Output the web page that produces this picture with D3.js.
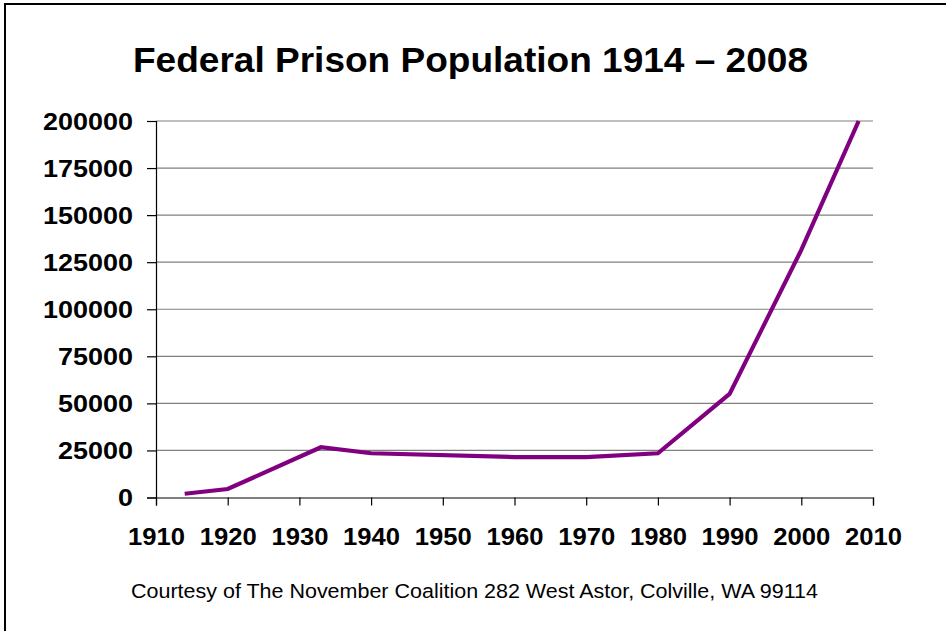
<!DOCTYPE html>
<html>
<head>
<meta charset="utf-8">
<script src="https://cdn.jsdelivr.net/npm/d3@7"></script>
<style>
  body { margin: 0; background: #fff; }
  svg { display: block; }
  text { font-family: "Liberation Sans", Arial, sans-serif; }
</style>
</head>
<body>
<svg id="chart" width="946" height="631"></svg>
<script>
// data
var years = [1914, 1920, 1933, 1940, 1960, 1970, 1980, 1990, 2000, 2008];
var population = [2000, 4500, 26700, 23500, 21500, 21500, 23500, 55000, 131500, 200000];
var yTicks = [0, 25000, 50000, 75000, 100000, 125000, 150000, 175000, 200000];
var xTicks = [1910, 1920, 1930, 1940, 1950, 1960, 1970, 1980, 1990, 2000, 2010];

var svg = d3.select("#chart");

// outer frame, cut off on the right and bottom
svg.append("rect")
	.attr("x", 5).attr("y", 4)
	.attr("width", 1000).attr("height", 700)
	.attr("fill", "none")
	.attr("stroke", "#000")
	.attr("stroke-width", 2);

var x = d3.scaleLinear().domain([1910, 2010]).range([156, 873]);
var y = d3.scaleLinear().domain([0, 200000]).range([497.5, 121]);

// gridlines
svg.append("g")
	.selectAll("line")
	.data(yTicks.slice(1))
	.enter()
	.append("line")
	.attr("x1", x(1910)).attr("x2", x(2010))
	.attr("y1", function(d) { return y(d); })
	.attr("y2", function(d) { return y(d); })
	.attr("stroke", "#808080")
	.attr("stroke-width", 1.2);

var yAxis = svg.append("g")
	.attr("transform", "translate(" + x(1910) + ",0)")
	.call(d3.axisLeft(y).tickValues(yTicks).tickSize(9).tickPadding(14).tickFormat(d3.format("d")));

var xAxis = svg.append("g")
	.attr("transform", "translate(0," + y(0) + ")")
	.call(d3.axisBottom(x).tickValues(xTicks).tickSize(8).tickPadding(17).tickFormat(d3.format("d")));

[yAxis, xAxis].forEach(function(ax) {
	ax.select(".domain").attr("stroke", "#000").attr("stroke-width", 1.2);
	ax.selectAll(".tick line").attr("stroke", "#000").attr("stroke-width", 1.2);
	ax.selectAll("text")
		.attr("fill", "#000")
		.style("font-family", "'Liberation Sans', Arial, sans-serif")
		.style("font-size", "23.5px")
		.style("font-weight", "bold")
		.attr("lengthAdjust", "spacingAndGlyphs");
});
// the source font is drawn wider than Liberation Sans, so stretch the labels
yAxis.selectAll("text").attr("dy", "0.36em")
	.attr("textLength", function(d) { return String(d).length * 15; });
xAxis.selectAll("text").attr("dy", "0.95em")
	.attr("textLength", 57);

// the series
var line = d3.line()
	.x(function(d, i) { return x(years[i]); })
	.y(function(d) { return y(d); });

svg.append("path")
	.datum(population)
	.attr("d", line)
	.attr("fill", "none")
	.attr("stroke", "#800080")
	.attr("stroke-width", 4.2)
	.attr("stroke-linejoin", "miter");

svg.append("text")
	.attr("x", 470.5).attr("y", 72)
	.attr("text-anchor", "middle")
	.attr("textLength", 675)
	.attr("lengthAdjust", "spacingAndGlyphs")
	.style("font-size", "35px")
	.style("font-weight", "bold")
	.text("Federal Prison Population 1914 \u2013 2008");

svg.append("text")
	.attr("x", 474.5).attr("y", 598)
	.attr("text-anchor", "middle")
	.attr("textLength", 687)
	.attr("lengthAdjust", "spacingAndGlyphs")
	.style("font-size", "20.5px")
	.text("Courtesy of The November Coalition 282 West Astor, Colville, WA 99114");
</script>
</body>
</html>
